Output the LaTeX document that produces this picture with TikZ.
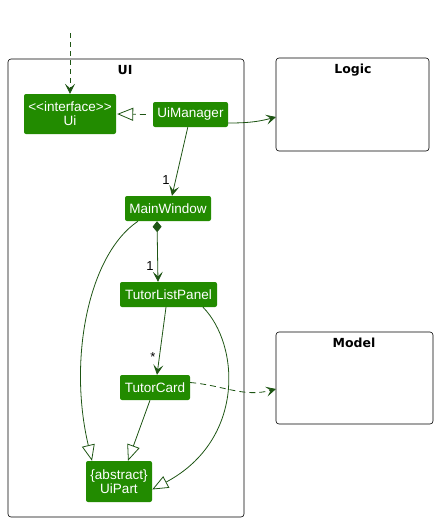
\documentclass[tikz,border=0pt]{standalone}
\usepackage{fontspec}
\setmainfont{Liberation Sans}
\newfontfamily\titlefont{DejaVu Sans}
\usetikzlibrary{arrows.meta}
\definecolor{nodegreen}{RGB}{34,139,0}
\definecolor{linegreen}{RGB}{30,85,20}
\tikzset{
  cls/.style={draw=none, fill=nodegreen, rounded corners=2pt, text=white, inner sep=0pt, align=center, font=\fontsize{13.5}{15}\selectfont},
  pkg/.style={draw=black, line width=0.6pt, rounded corners=3pt},
  pkgtitle/.style={font=\titlefont\bfseries\fontsize{12.5}{14}\selectfont, anchor=center},
  conn/.style={draw=linegreen, line width=0.8pt},
  openarrow/.style={-{Stealth[length=10pt,width=10pt,inset=4.5pt]}},
  inherit/.style={-{Triangle[open,length=16pt,width=13pt,fill=white]}},
  mult/.style={font=\fontsize{13}{15}\selectfont, text=black, inner sep=0pt}
}
\begin{document}
\begin{tikzpicture}[x=1pt,y=-1pt]
\useasboundingbox (0,0) rectangle (438,523);
% packages
\draw[pkg] (8,59) rectangle (244,517);
\node[pkgtitle] (uititle) at (125,70) {UI};
\draw[pkg] (276,58) rectangle (429,151);
\node[pkgtitle] (logictitle) at (353,70) {Logic};
\coordinate (logicin) at (276,117);
\draw[pkg] (276,332) rectangle (433,424);
\node[pkgtitle] (modeltitle) at (354,343) {Model};
\coordinate (modelin) at (276,389);
% classes
\node[cls, minimum width=92pt, minimum height=40pt] (ui) at (70,114) {<{}<interface>{}>\\[-1pt]Ui};
\node[cls, minimum width=75pt, minimum height=25pt] (uim) at (190.5,114.5) {UiManager};
\node[cls, minimum width=86pt, minimum height=25pt] (mw) at (168,208.5) {MainWindow};
\node[cls, minimum width=97pt, minimum height=25pt] (tlp) at (168.5,294.5) {TutorListPanel};
\node[cls, minimum width=70pt, minimum height=25pt] (tc) at (155,387.5) {TutorCard};
\node[cls, minimum width=66pt, minimum height=41pt] (uip) at (119,481.5) {\{abstract\}\\[-1pt]UiPart};
% connectors
\coordinate (topstart) at (70,33);
\draw[conn, dashed, dash pattern=on 5pt off 4pt, openarrow] (topstart) -- (ui.north);
\draw[conn, dashed, dash pattern=on 6pt off 4pt, inherit] ([xshift=-7pt]uim.west) -- ([xshift=1pt]ui.east);
\draw[conn, openarrow] (uim.south west) ++(35,0) -- ([xshift=4pt]mw.north);
\node[mult] (m1) at (166,180) {1};
\draw[conn, openarrow] (uim.east) ++(0,8.5) to[out=0,in=195] (logicin);
\draw[conn, {Diamond[length=11pt,width=9pt]}-{Stealth[length=10pt,width=10pt,inset=4.5pt]}] ([xshift=-11pt]mw.south) -- ([xshift=-10.5pt]tlp.north);
\node[mult] (m2) at (150,266) {1};
\draw[conn, openarrow] ([xshift=-2.5pt]tlp.south) -- ([xshift=2pt]tc.north);
\node[mult] (m3) at (153,357) {*};
\draw[conn, inherit] ([xshift=-5pt]tc.south) -- ([xshift=9pt]uip.north);
\draw[conn, inherit] ([xshift=-30pt]mw.south) .. controls (88,255) and (68,360) .. ([xshift=-27pt]uip.north);
\draw[conn, inherit] ([xshift=34.5pt]tlp.south) .. controls (240,345) and (245,440) .. ([yshift=-8pt]uip.east);
\draw[conn, dashed, dash pattern=on 6pt off 4pt, openarrow] ([yshift=5pt]tc.east) to[out=-5,in=195] (modelin);
\end{tikzpicture}
\end{document}
